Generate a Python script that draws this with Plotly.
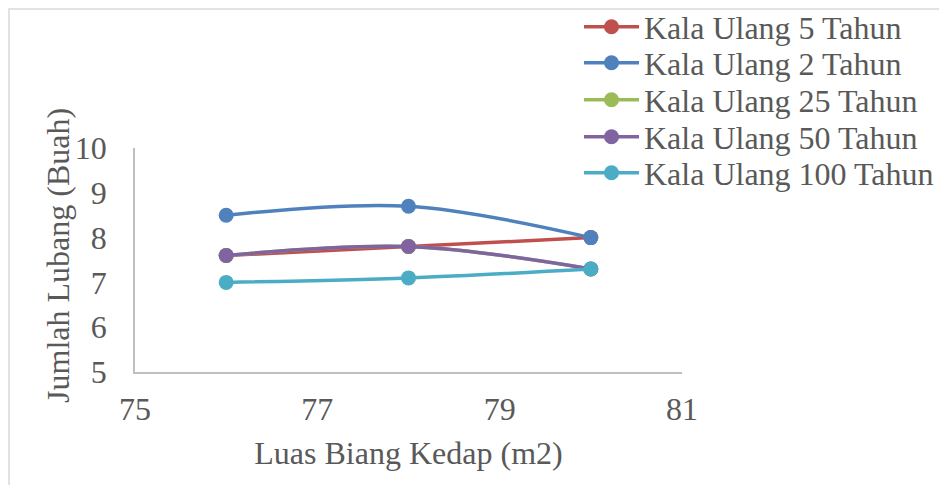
import plotly.graph_objects as go

x_vals = [76, 78, 80]
series_names = ["Kala Ulang 5 Tahun", "Kala Ulang 2 Tahun", "Kala Ulang 25 Tahun",
                "Kala Ulang 50 Tahun", "Kala Ulang 100 Tahun"]
kala_5 = [7.6, 7.8, 8.0]
kala_2 = [8.5, 8.7, 8.0]
kala_25 = [7.6, 7.8, 7.3]
kala_50 = [7.6, 7.8, 7.3]
kala_100 = [7.0, 7.1, 7.3]
series_values = [kala_5, kala_2, kala_25, kala_50, kala_100]
colors = ["#C0504D", "#4F81BD", "#9BBB59", "#8064A2", "#4BACC6"]
x_ticks = [75, 77, 79, 81]
y_ticks = [5, 6, 7, 8, 9, 10]
x_title = "Luas Biang Kedap (m2)"
y_title = "Jumlah Lubang (Buah)"

FONT = "Liberation Serif"
TXT = "#595959"
FS = 32

# figure-pixel geometry (page has an 8px body margin)
L, R, T, B = 127, 273, 140, 121
W, H = 947, 485
legend_names = ["legend", "legend2", "legend3", "legend4", "legend5"]
legend_centers = [19, 55, 92, 129, 165]

fig = go.Figure()
for name, vals, c, lg in zip(series_names, series_values, colors, legend_names):
    fig.add_trace(go.Scatter(
        x=x_vals, y=vals, name=name, mode="lines+markers",
        line=dict(color=c, width=3.5, shape="spline", smoothing=1),
        marker=dict(color=c, size=15),
        legend=lg,
    ))

legend_layout = {}
for lg, cy in zip(legend_names, legend_centers):
    legend_layout[lg] = dict(
        xref="container", yref="container", x=571 / W, y=1 - cy / H,
        xanchor="left", yanchor="middle",
        font=dict(family=FONT, size=FS, color=TXT),
        bgcolor="rgba(0,0,0,0)", itemwidth=55,
    )

pw = W - L - R
ph = H - T - B

fig.update_layout(
    width=W, height=H,
    margin=dict(l=L, r=R, t=T, b=B, autoexpand=False),
    paper_bgcolor="white", plot_bgcolor="white",
    font=dict(family=FONT, color=TXT),
    showlegend=True,
    xaxis=dict(range=[75, 81], tickvals=x_ticks, showgrid=False, zeroline=False,
               showline=True, linecolor="#BFBFBF", linewidth=1.5, ticks="",
               automargin=False, ticklabelstandoff=8,
               tickfont=dict(size=FS, color=TXT, family=FONT),
               title=dict(text=x_title, font=dict(size=FS, color=TXT, family=FONT),
                          standoff=15)),
    yaxis=dict(range=[5, 10], tickvals=y_ticks, showgrid=False, zeroline=False,
               showline=True, linecolor="#BFBFBF", linewidth=1.5, ticks="",
               automargin=False, ticklabelstandoff=20,
               tickfont=dict(size=FS, color=TXT, family=FONT)),
    annotations=[dict(text=y_title, textangle=-90, xref="paper", yref="paper",
                      x=(58 - 8 - L) / pw, y=0.518, xanchor="center", yanchor="middle",
                      showarrow=False, font=dict(size=FS, color=TXT, family=FONT))],
    shapes=[dict(type="rect", xref="paper", yref="paper",
                 x0=(1 - L) / pw, x1=1.6, y0=-0.7, y1=(ph + T - 1) / ph,
                 line=dict(color="#D9D9D9", width=1.5), layer="below")],
    **legend_layout,
)

fig.write_html("out.html")
